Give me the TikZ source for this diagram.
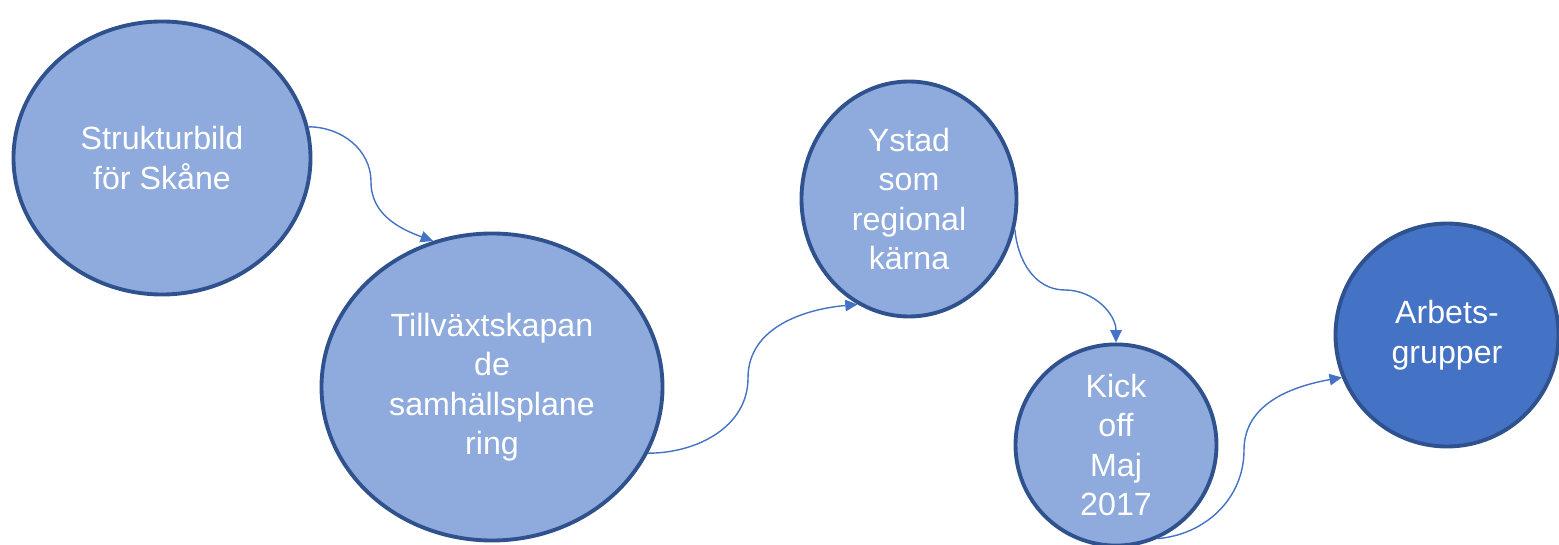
\documentclass[tikz,border=0pt]{standalone}
\usepackage{fontspec}
\setmainfont{Liberation Sans}
\usetikzlibrary{positioning, arrows.meta, shapes.geometric}
\definecolor{lightblue}{HTML}{8FAADC}
\definecolor{darkblue}{HTML}{2F528F}
\definecolor{midblue}{HTML}{4472C4}

\begin{document}
\begin{tikzpicture}
\tikzstyle{oval}=[ellipse, draw=darkblue, line width=2.2pt, fill=lightblue, inner sep=0pt, text=white, align=center, font=\fontsize{18.3}{22.5}\selectfont]
\tikzstyle{connect}=[-{Triangle[length=7pt,width=6.5pt]}, draw=midblue, line width=0.8pt]
\useasboundingbox (0,0) rectangle (31.18,10.88);
% 2. Nodes
%%%%%%%%%%
\node[oval, minimum width=5.94cm, minimum height=5.46cm] (struktur) at (3.24,7.72) {Strukturbild\\för Skåne};
\node[oval, minimum width=6.82cm, minimum height=6.14cm] (tillvaxt) at (9.84,3.14) {Tillväxtskapan\\de\\samhällsplane\\ring};
\node[oval, minimum width=4.30cm, minimum height=4.70cm] (ystad) at (18.18,6.90) {Ystad\\som\\regional\\kärna};
\node[oval, minimum width=4.02cm, minimum height=3.74cm] (kickoff) at (22.32,1.98) {Kick\\off\\Maj\\2017};
\node[oval, fill=midblue, minimum width=4.46cm, minimum height=4.46cm] (arbets) at (28.94,4.18) {Arbets-\\grupper};

\coordinate (m1) at (7.42,7.24);
\coordinate (m2) at (14.96,3.32);
\coordinate (m3) at (21.30,5.08);
\coordinate (m4) at (24.88,1.88);
% 3. Arrows
%%%%%%%%%%%
\draw[connect] (struktur.12) to[out=0,in=90] (m1) to[out=-90,in=160] (tillvaxt.112);
\draw[connect] (tillvaxt.-23) to[out=0,in=-90] (m2) to[out=90,in=185] (ystad.-116);
\draw[connect] (ystad.-16) to[out=-85,in=180] (m3) to[out=0,in=90] (kickoff.90);
\draw[connect] (kickoff.-66) to[out=5,in=-90] (m4) to[out=90,in=190] (arbets.202);

\end{tikzpicture}
\end{document}
